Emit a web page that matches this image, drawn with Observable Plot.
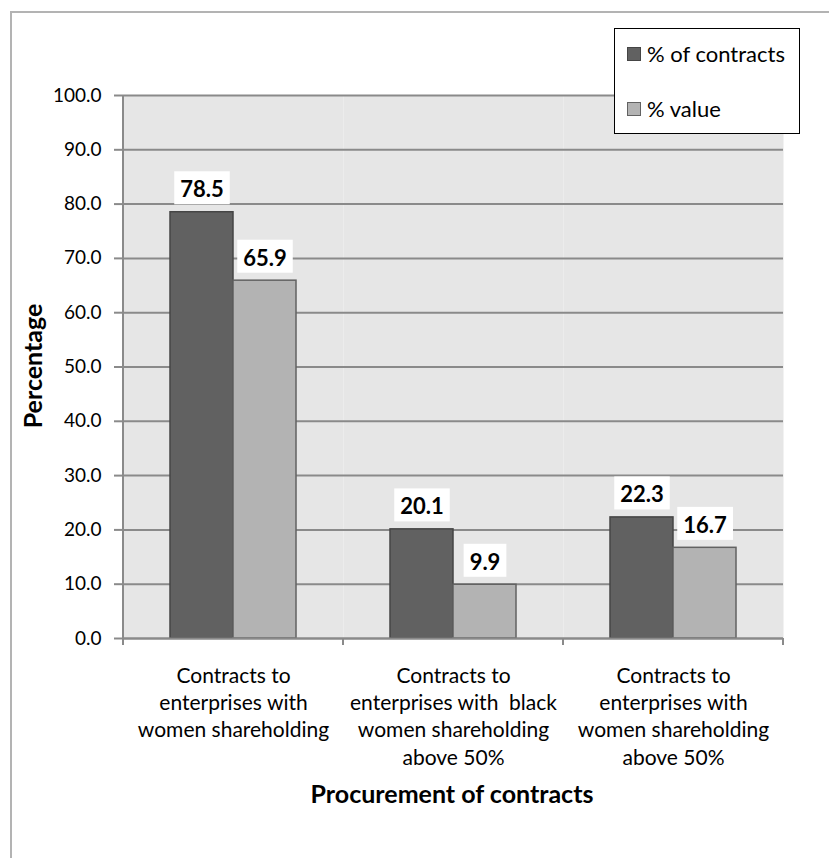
<!DOCTYPE html>
<html>
<head>
<meta charset="utf-8">
<script src="https://cdn.jsdelivr.net/npm/d3@7"></script>
<script src="https://cdn.jsdelivr.net/npm/@observablehq/plot@0.6"></script>
<style>
  body { margin: 0; background: #fff; overflow: hidden; }
  #chart { position: relative; width: 829px; height: 858px; font-family: Lato, "Open Sans", sans-serif; color: #000; }
  #chart svg { position: absolute; left: 0; top: 0; }
  .chart-edge { position: absolute; left: 10px; top: 11px; width: 900px; height: 900px;
                border-left: 2px solid #b3b3b3; border-top: 2px solid #b3b3b3; }
  .y-title { position: absolute; left: 32px; top: 366px; transform: translate(-50%, -50%) rotate(-90deg);
             font-weight: bold; font-size: 25px; white-space: nowrap; }
  .x-title { position: absolute; left: 452px; top: 793px; transform: translate(-50%, -50%);
             font-weight: bold; font-size: 25px; white-space: nowrap; }
  .legend { position: absolute; left: 614px; top: 28px; width: 184px; height: 104px;
            border: 1.5px solid #000; background: #fff; font-size: 22px; }
  .legend .item { position: absolute; left: 12px; display: flex; align-items: center; white-space: nowrap; }
  .legend .swatch { width: 14px; height: 14px; margin-right: 6px; box-sizing: border-box; }
</style>
</head>
<body>
<div id="chart">
  <div class="chart-edge"></div>
</div>
<script>
// Procurement of contracts: share of contracts and of contract value (%)
const categories = [
  "Contracts to\nenterprises with\nwomen shareholding",
  "Contracts to\nenterprises with\u00a0 black\nwomen shareholding\nabove 50%",
  "Contracts to\nenterprises with\nwomen shareholding\nabove 50%"
];
const series = ["% of contracts", "% value"];
const pctContracts = [78.5, 20.1, 22.3];
const pctValue = [65.9, 9.9, 16.7];
const yTicks = [0, 10, 20, 30, 40, 50, 60, 70, 80, 90, 100];

const seriesStyle = {
  "% of contracts": {fill: "#616161", stroke: "#454545"},
  "% value": {fill: "#b3b3b3", stroke: "#626262"}
};

const rows = categories.flatMap((category, i) => [
  {category, series: series[0], value: pctContracts[i]},
  {category, series: series[1], value: pctValue[i]}
]);

const gridColor = "#8a8a8a";

const plot = Plot.plot({
  width: 829,
  height: 858,
  marginLeft: 122,
  marginRight: 46,
  marginTop: 95,
  marginBottom: 220,
  style: {fontFamily: "Lato, 'Open Sans', sans-serif", fontSize: "19px", color: "#000", background: "transparent", overflow: "visible"},
  fx: {domain: categories, padding: 0, axis: null},
  x: {domain: series, paddingInner: 0, paddingOuter: 0.746, axis: null},
  y: {domain: [0, 100], axis: null},
  marks: [
    Plot.frame({fill: "#e6e6e6", stroke: null}),
    Plot.gridY(yTicks, {stroke: gridColor, strokeOpacity: 1, strokeWidth: 2}),
    ...series.map(s => Plot.barY(rows.filter(d => d.series === s), {
      fx: "category", x: "series", y: "value",
      fill: seriesStyle[s].fill, stroke: seriesStyle[s].stroke, strokeWidth: 1.5
    })),
    Plot.ruleY([0], {stroke: gridColor, strokeWidth: 2}),
    Plot.axisY(yTicks, {
      tickFormat: d3.format(".1f"), tickSize: 9, tickPadding: 13,
      stroke: gridColor, strokeWidth: 2, fontSize: 19, label: null
    }),
    Plot.axisFx({anchor: "bottom", tickSize: 0, tickPadding: 25, lineHeight: 1.3, fontSize: 21, label: null}),
    Plot.text(rows, {
      fx: "category", x: "series", y: "value",
      text: d => d.value.toFixed(1),
      dy: -22, lineAnchor: "middle",
      fontWeight: "bold", fontSize: 22, fill: "#000",
      className: "value-label"
    })
  ]
});

const chart = document.getElementById("chart");
chart.appendChild(plot);

// White boxes behind the value labels
d3.select(plot).selectAll(".value-label text").each(function() {
  const b = this.getBBox();
  d3.select(this.parentNode).insert("rect", () => this)
    .attr("transform", this.getAttribute("transform"))
    .attr("x", b.x - 6).attr("y", b.y - 4)
    .attr("width", b.width + 12).attr("height", b.height + 6)
    .attr("fill", "#fff");
});

// Value axis line and category boundary ticks
const fx = plot.scale("fx");
const y = plot.scale("y");
const y0 = y.apply(0), y1 = y.apply(100);
const edges = categories.map(c => fx.apply(c)).concat(fx.apply(categories[categories.length - 1]) + fx.bandwidth);
const axes = d3.select(plot).append("g").attr("stroke", gridColor).attr("stroke-width", 2);
axes.append("line").attr("x1", edges[0]).attr("x2", edges[0]).attr("y1", y1).attr("y2", y0 + 7);
axes.selectAll(".edge").data(edges.slice(1)).join("line")
  .attr("x1", d => d).attr("x2", d => d).attr("y1", y0).attr("y2", y0 + 7);

// Axis titles
const yTitle = document.createElement("div");
yTitle.className = "y-title";
yTitle.textContent = "Percentage";
chart.appendChild(yTitle);

const xTitle = document.createElement("div");
xTitle.className = "x-title";
xTitle.textContent = "Procurement of contracts";
chart.appendChild(xTitle);

// Legend
const legend = document.createElement("div");
legend.className = "legend";
series.forEach((s, i) => {
  const item = document.createElement("div");
  item.className = "item";
  item.style.top = (i === 0 ? 11 : 66) + "px";
  const sw = document.createElement("span");
  sw.className = "swatch";
  sw.style.background = seriesStyle[s].fill;
  sw.style.border = "1px solid " + seriesStyle[s].stroke;
  item.appendChild(sw);
  item.appendChild(document.createTextNode(s));
  legend.appendChild(item);
});
chart.appendChild(legend);
</script>
</body>
</html>
